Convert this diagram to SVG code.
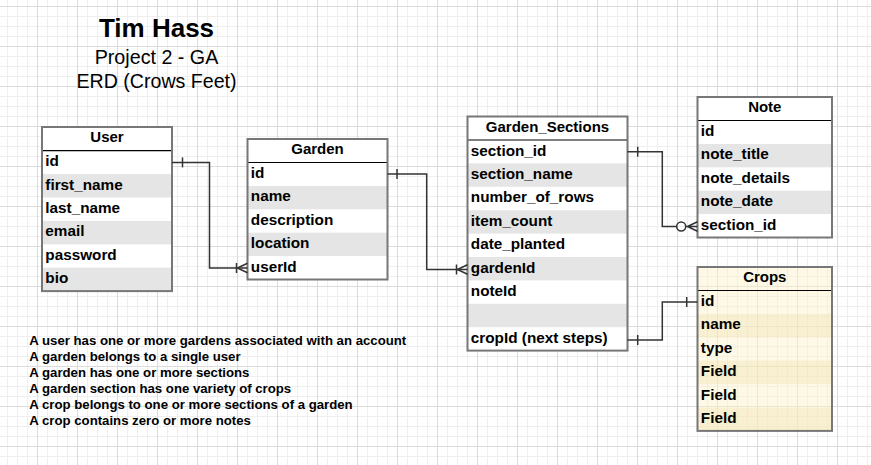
<svg xmlns="http://www.w3.org/2000/svg" width="871" height="465" viewBox="0 0 871 465">
<defs>
<pattern id="grid" patternUnits="userSpaceOnUse" x="-3" y="6" width="40" height="40">
<rect x="0" y="0" width="40" height="40" fill="#ffffff"/>
<rect x="10" y="0" width="1" height="40" fill="#efefef"/>
<rect x="20" y="0" width="1" height="40" fill="#efefef"/>
<rect x="30" y="0" width="1" height="40" fill="#efefef"/>
<rect x="0" y="10" width="40" height="1" fill="#efefef"/>
<rect x="0" y="20" width="40" height="1" fill="#efefef"/>
<rect x="0" y="30" width="40" height="1" fill="#efefef"/>
<rect x="0" y="0" width="1" height="40" fill="#dcdcdc"/>
<rect x="0" y="0" width="40" height="1" fill="#dcdcdc"/>
</pattern>
</defs>
<style>
.bg{fill:#ffffff}
.shade{fill:#e5e5e5}
.cbg{fill:#fcf1c8;fill-opacity:0.45}
.cshade{fill:#efdfa8;fill-opacity:0.35}
.border{fill:none;stroke:#777777;stroke-width:2}
.hline{stroke:#000000;stroke-width:1.2}
.hdr{font-family:"Liberation Sans",Arial,sans-serif;font-weight:bold;font-size:15px;fill:#000;text-anchor:middle}
.fld{font-family:"Liberation Sans",Arial,sans-serif;font-weight:bold;font-size:15.3px;fill:#000}
.title{font-family:"Liberation Sans",Arial,sans-serif;fill:#000;text-anchor:middle}
.note{font-family:"Liberation Sans",Arial,sans-serif;font-weight:bold;font-size:13.2px;fill:#000}
.conn{fill:none;stroke:#333333;stroke-width:1.5}
</style>
<rect x="0" y="0" width="871" height="465" fill="url(#grid)"/>

<g id="title">
<text class="title" x="156.5" y="36.7" font-size="26" font-weight="bold">Tim Hass</text>
<text class="title" x="156.5" y="64" font-size="19.7">Project 2 - GA</text>
<text class="title" x="156.5" y="87.7" font-size="19.6">ERD (Crows Feet)</text>
</g>

<g id="User">
<rect class="bg" x="42" y="127" width="130" height="164.1"/>
<rect class="shade" x="42" y="174.1" width="130" height="23.4"/>
<rect class="shade" x="42" y="220.9" width="130" height="23.4"/>
<rect class="shade" x="42" y="267.7" width="130" height="23.4"/>
<line class="hline" x1="42" y1="150.7" x2="172" y2="150.7"/>
<rect class="border" x="42" y="127" width="130" height="164.1"/>
<text class="hdr" x="107" y="142">User</text>
<text class="fld" x="45.3" y="166.2">id</text>
<text class="fld" x="45.3" y="189.6">first_name</text>
<text class="fld" x="45.3" y="213">last_name</text>
<text class="fld" x="45.3" y="236.4">email</text>
<text class="fld" x="45.3" y="259.8">password</text>
<text class="fld" x="45.3" y="283.2">bio</text>
</g>

<g id="Garden">
<rect class="bg" x="247.5" y="139" width="140" height="140.5"/>
<rect class="shade" x="247.5" y="185.9" width="140" height="23.4"/>
<rect class="shade" x="247.5" y="232.7" width="140" height="23.4"/>
<line class="hline" x1="247.5" y1="162.5" x2="387.5" y2="162.5"/>
<rect class="border" x="247.5" y="139" width="140" height="140.5"/>
<text class="hdr" x="317.5" y="154">Garden</text>
<text class="fld" x="250.8" y="178">id</text>
<text class="fld" x="250.8" y="201.4">name</text>
<text class="fld" x="250.8" y="224.8">description</text>
<text class="fld" x="250.8" y="248.2">location</text>
<text class="fld" x="250.8" y="271.6">userId</text>
</g>

<g id="Garden_Sections">
<rect class="bg" x="467.5" y="116.5" width="160" height="234.1"/>
<rect class="shade" x="467.5" y="163.4" width="160" height="23.4"/>
<rect class="shade" x="467.5" y="210.2" width="160" height="23.4"/>
<rect class="shade" x="467.5" y="257" width="160" height="23.4"/>
<rect class="shade" x="467.5" y="303.8" width="160" height="23.4"/>
<line class="hline" x1="467.5" y1="140" x2="627.5" y2="140"/>
<rect class="border" x="467.5" y="116.5" width="160" height="234.1"/>
<text class="hdr" x="547.5" y="131.5">Garden_Sections</text>
<text class="fld" x="470.8" y="155.5">section_id</text>
<text class="fld" x="470.8" y="178.9">section_name</text>
<text class="fld" x="470.8" y="202.3">number_of_rows</text>
<text class="fld" x="470.8" y="225.7">item_count</text>
<text class="fld" x="470.8" y="249.1">date_planted</text>
<text class="fld" x="470.8" y="272.5">gardenId</text>
<text class="fld" x="470.8" y="295.9">noteId</text>
<text class="fld" x="470.8" y="342.7">cropId (next steps)</text>
</g>

<g id="Note">
<rect class="bg" x="697.5" y="97" width="134.5" height="140.5"/>
<rect class="shade" x="697.5" y="143.9" width="134.5" height="23.4"/>
<rect class="shade" x="697.5" y="190.7" width="134.5" height="23.4"/>
<line class="hline" x1="697.5" y1="120.5" x2="832" y2="120.5"/>
<rect class="border" x="697.5" y="97" width="134.5" height="140.5"/>
<text class="hdr" x="764.8" y="112">Note</text>
<text class="fld" x="700.8" y="136">id</text>
<text class="fld" x="700.8" y="159.4">note_title</text>
<text class="fld" x="700.8" y="182.8">note_details</text>
<text class="fld" x="700.8" y="206.2">note_date</text>
<text class="fld" x="700.8" y="229.6">section_id</text>
</g>

<g id="Crops">
<rect class="cbg" x="697.5" y="267" width="134.5" height="163.9"/>
<rect class="cshade" x="697.5" y="313.9" width="134.5" height="23.4"/>
<rect class="cshade" x="697.5" y="360.7" width="134.5" height="23.4"/>
<rect class="cshade" x="697.5" y="407.5" width="134.5" height="23.4"/>
<line class="hline" x1="697.5" y1="290.5" x2="832" y2="290.5"/>
<rect class="border" x="697.5" y="267" width="134.5" height="163.9"/>
<text class="hdr" x="764.8" y="282">Crops</text>
<text class="fld" x="700.8" y="306">id</text>
<text class="fld" x="700.8" y="329.4">name</text>
<text class="fld" x="700.8" y="352.8">type</text>
<text class="fld" x="700.8" y="376.2">Field</text>
<text class="fld" x="700.8" y="399.6">Field</text>
<text class="fld" x="700.8" y="423">Field</text>
</g>

<g id="connectors">
<path class="conn" d="M172,162.4 H209.5 V268 H247.5"/>
<path class="conn" d="M182.5,157.4 V167.4"/>
<path class="conn" d="M236.5,263 V273 M237.5,268 L247.5,263.3 M237.5,268 L247.5,272.7"/>

<path class="conn" d="M387.5,174 H426.7 V269.5 H467.5"/>
<path class="conn" d="M397,169 V179"/>
<path class="conn" d="M456.5,264.5 V274.5 M457.5,269.5 L467.5,264.8 M457.5,269.5 L467.5,274.2"/>

<path class="conn" d="M627.5,151.7 H662.3 V226.5 H676.7"/>
<path class="conn" d="M637.7,146.7 V156.7"/>
<circle class="conn" cx="681.2" cy="226.5" r="4.5"/>
<path class="conn" d="M685.7,226.5 H697.5 M687.5,226.5 L697.5,221.8 M687.5,226.5 L697.5,231.2"/>

<path class="conn" d="M627.5,340 H662.3 V302 H697.5"/>
<path class="conn" d="M637.7,335 V345"/>
<path class="conn" d="M686.7,297 V307"/>
</g>

<g id="notes">
<text class="note" x="29.3" y="344.5">A user has one or more gardens associated with an account</text>
<text class="note" x="29.3" y="360.5">A garden belongs to a single user</text>
<text class="note" x="29.3" y="376.5">A garden has one or more sections</text>
<text class="note" x="29.3" y="392.5">A garden section has one variety of crops</text>
<text class="note" x="29.3" y="408.5">A crop belongs to one or more sections of a garden</text>
<text class="note" x="29.3" y="424.5">A crop contains zero or more notes</text>
</g>
</svg>
